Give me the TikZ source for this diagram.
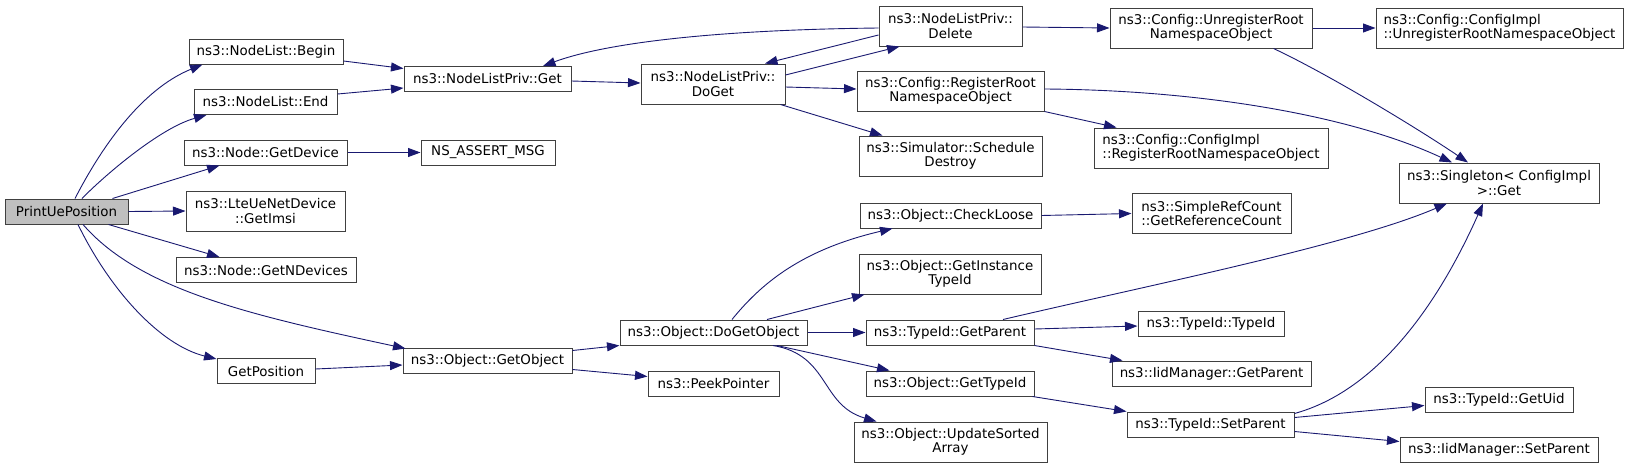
\documentclass[tikz,border=0pt]{standalone}
\usepackage{fontspec}
\setmainfont{DejaVu Sans}
\usetikzlibrary{arrows.meta,calc}
\definecolor{edgec}{HTML}{191970}
\definecolor{boxc}{HTML}{404040}
\definecolor{rootfill}{HTML}{BFBFBF}
\tikzset{
  fn/.style={draw=boxc, line width=1pt, inner sep=0pt, align=center,
    font=\fontsize{13.4}{14.3}\selectfont, text=black},
  fnl/.style={fn, align=left},
  call/.style={draw=edgec, line width=0.9pt, -{Triangle[length=12.5pt,width=9pt]}, color=edgec},
}
\newcommand{\fbx}[6][fn]{\node[#1, minimum width=#4pt, minimum height=#5pt] (#2) at (#3) {#6};}
\begin{document}
\begin{tikzpicture}[x=1pt,y=-1pt]
\useasboundingbox (0,0) rectangle (1628,469);
% nodes
\fbx[fn,fill=rootfill]{pup}{66.5,211.5}{123}{25}{PrintUePosition}
\fbx{begin}{266,51.5}{154}{25}{ns3::NodeList::Begin}
\fbx{end}{265.5,102}{143}{25}{ns3::NodeList::End}
\fbx{getdev}{265.5,152.5}{163}{25}{ns3::Node::GetDevice}
\fbx{imsi}{265.5,211}{159}{40}{ns3::LteUeNetDevice\\::GetImsi}
\fbx{ndev}{266,270}{180}{25}{ns3::Node::GetNDevices}
\fbx{getpos}{266,371}{98}{25}{GetPosition}
\fbx{nlget}{487.5,79}{167}{25}{ns3::NodeListPriv::Get}
\fbx{doget}{713,84}{144}{40}{ns3::NodeListPriv::\\DoGet}
\fbx{assert}{488,152.5}{134}{25}{NS\_ASSERT\_MSG}
\fbx{getobj}{487.5,360.5}{169}{25}{ns3::Object::GetObject}
\fbx{dogetobj}{713.5,332.5}{187}{25}{ns3::Object::DoGetObject}
\fbx{peek}{713.5,383.5}{131}{25}{ns3::PeekPointer}
\fbx{delete}{950.5,26}{143}{40}{ns3::NodeListPriv::\\Delete}
\fbx{unreg}{1211,28}{202}{40}{ns3::Config::UnregisterRoot\\NamespaceObject}
\fbx{reg}{950.5,91}{187}{40}{ns3::Config::RegisterRoot\\NamespaceObject}
\fbx{sched}{950.5,156}{183}{40}{ns3::Simulator::Schedule\\Destroy}
\fbx[fnl]{cireg}{1211,148}{234}{40}{ns3::Config::ConfigImpl\\::RegisterRootNamespaceObject}
\fbx{checkloose}{950.5,215.5}{181}{25}{ns3::Object::CheckLoose}
\fbx[fnl]{refcount}{1211.5,213.5}{159}{40}{ns3::SimpleRefCount\\::GetReferenceCount}
\fbx{instid}{950,274}{182}{40}{ns3::Object::GetInstance\\TypeId}
\fbx{getparent}{950,332.5}{168}{25}{ns3::TypeId::GetParent}
\fbx{typeid}{1211,323.5}{146}{25}{ns3::TypeId::TypeId}
\fbx{iidget}{1211.5,373.5}{199}{25}{ns3::IidManager::GetParent}
\fbx{gettypeid}{950,383.5}{168}{25}{ns3::Object::GetTypeId}
\fbx{upd}{950.5,442}{193}{40}{ns3::Object::UpdateSorted\\Array}
\fbx{setparent}{1210.5,424.5}{167}{25}{ns3::TypeId::SetParent}
\fbx[fnl]{ciunreg}{1499.5,28}{247}{40}{ns3::Config::ConfigImpl\\::UnregisterRootNamespaceObject}
\fbx{singleton}{1499,183}{200}{40}{ns3::Singleton< ConfigImpl\\ >::Get}
\fbx{getuid}{1499,399.5}{148}{25}{ns3::TypeId::GetUid}
\fbx{iidset}{1499,449.5}{198}{25}{ns3::IidManager::SetParent}
% edges
\draw[call] ($(pup.north)+(8.5,0)$) .. controls (100,150) and (140,90) .. ($(begin.south west)+(14,0)$);
\draw[call] ($(pup.north)+(15.5,0)$) .. controls (105,175) and (160,128) .. ($(end.south west)+(13,0)$);
\draw[call] ($(pup.north east)+(-16,0)$) -- ($(getdev.south west)+(36,0)$);
\draw[call] (pup.east) -- (imsi.west);
\draw[call] ($(pup.south east)+(-20,0)$) -- ($(ndev.north west)+(44,0)$);
\draw[call] ($(pup.south)+(16.5,0)$) .. controls (140,290) and (250,315) .. ($(getobj.north west)+(3,1)$);
\draw[call] ($(pup.south)+(11.5,0)$) .. controls (110,290) and (160,345) .. ($(getpos.north west)+(0,1)$);
\draw[call] ($(begin.east)+(0,9.5)$) -- ($(nlget.west)+(0,-10.5)$);
\draw[call] ($(end.east)+(0,-8)$) -- ($(nlget.west)+(0,9)$);
\draw[call] (getdev.east) -- (assert.west);
\draw[call] ($(getpos.east)+(0,-2)$) -- ($(getobj.west)+(0,4.5)$);
\draw[call] ($(nlget.east)+(0,2)$) -- ($(doget.west)+(0,-1)$);
\draw[call] ($(doget.east)+(0,-9)$) -- ($(delete.south west)+(21,0)$);
\draw[call] ($(delete.west)+(0,9)$) -- ($(doget.north)+(52,0)$);
\draw[call] ($(delete.west)+(0,2)$) .. controls (700,30) and (600,45) .. ($(nlget.north)+(55.5,0)$);
\draw[call] ($(doget.east)+(0,3)$) -- ($(reg.west)+(0,-2)$);
\draw[call] ($(doget.south east)+(-5,0)$) -- ($(sched.north west)+(24,0)$);
\draw[call] ($(delete.east)+(0,1)$) -- (unreg.west);
\draw[call] (unreg.east) -- (ciunreg.west);
\draw[call] ($(unreg.south east)+(-39,0)$) .. controls (1330,75) and (1420,130) .. ($(singleton.north)+(-31,0)$);
\draw[call] ($(reg.east)+(0,-2)$) .. controls (1200,90) and (1350,115) .. ($(singleton.north)+(-47,0)$);
\draw[call] (reg.south east) -- ($(cireg.north west)+(23,0)$);
\draw[call] (checkloose.east) -- (refcount.west);
\draw[call] ($(dogetobj.north)+(18.5,0)$) .. controls (760,285) and (800,250) .. ($(checkloose.south west)+(33,0)$);
\draw[call] ($(dogetobj.north)+(53.5,0)$) -- ($(instid.south west)+(6,0)$);
\draw[call] (dogetobj.east) -- (getparent.west);
\draw[call] ($(dogetobj.south)+(63.5,0)$) -- ($(gettypeid.north west)+(24,0)$);
\draw[call] ($(dogetobj.south)+(59.5,0)$) .. controls (830,355) and (820,405) .. ($(upd.north west)+(23,0)$);
\draw[call] ($(getparent.north)+(53,0)$) .. controls (1150,285) and (1350,245) .. ($(singleton.south)+(-52,0)$);
\draw[call] ($(getparent.east)+(0,-3.5)$) -- ($(typeid.west)+(0,2.5)$);
\draw[call] (getparent.south east) -- ($(iidget.north west)+(11,0)$);
\draw[call] ($(gettypeid.south east)+(-2,0)$) -- (setparent.north west);
\draw[call] ($(setparent.east)+(0,-11)$) .. controls (1380,390) and (1440,300) .. ($(singleton.south)+(-16,0)$);
\draw[call] ($(setparent.east)+(0,-7)$) -- ($(getuid.west)+(0,6)$);
\draw[call] ($(setparent.east)+(0,7)$) -- ($(iidset.west)+(0,-8)$);
\draw[call] ($(getobj.east)+(0,-10)$) -- (dogetobj.south west);
\draw[call] ($(getobj.east)+(0,9)$) -- ($(peek.west)+(0,-7)$);
\end{tikzpicture}
\end{document}
